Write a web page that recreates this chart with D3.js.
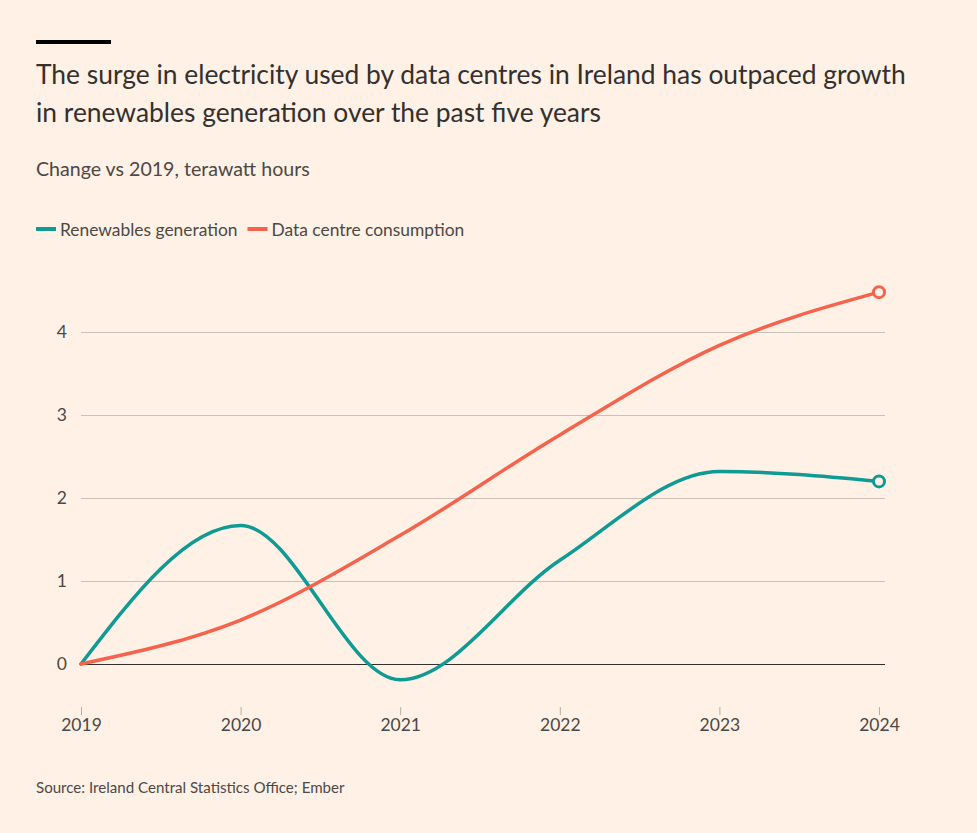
<!DOCTYPE html>
<html>
<head>
<meta charset="utf-8">
<script src="https://cdn.jsdelivr.net/npm/d3@7"></script>
<style>
  body { margin: 0; background: #fff1e5; }
  svg { display: block; font-family: "Lato", "Open Sans", sans-serif; }
</style>
</head>
<body>
<div id="chart"></div>
<script>
// values, change vs 2019 in TWh
var years = [2019, 2020, 2021, 2022, 2023, 2024];
var renewables = [0, 1.67, -0.19, 1.25, 2.32, 2.20];
var datacentres = [0, 0.53, 1.55, 2.76, 3.84, 4.48];
var yTicks = [0, 1, 2, 3, 4];

var seriesNames = ["Renewables generation", "Data centre consumption"];
var seriesColors = ["#0f9a94", "#f5634d"];

function main() {
    var W = 977, H = 833;
    var margin = {top: 250, right: 92, bottom: 169, left: 81},
        width = W - margin.left - margin.right,
        height = H - margin.top - margin.bottom;

    var root = d3.select("#chart").append("svg")
        .attr("width", W)
        .attr("height", H);

    root.append("rect").attr("width", W).attr("height", H).attr("fill", "#fff1e5");

    // header bar + titles
    root.append("rect")
        .attr("x", 36).attr("y", 40).attr("width", 75).attr("height", 4)
        .attr("fill", "#000");

    var title = root.append("text")
        .attr("fill", "#33302e")
        .style("font-size", "26.4px");
    title.append("tspan").attr("x", 36).attr("y", 84)
        .text("The surge in electricity used by data centres in Ireland has outpaced growth");
    title.append("tspan").attr("x", 36).attr("y", 122)
        .text("in renewables generation over the past five years");

    root.append("text")
        .attr("x", 36).attr("y", 176)
        .attr("fill", "#4d4845")
        .style("font-size", "19.6px")
        .text("Change vs 2019, terawatt hours");

    // legend
    var lx = 36;
    seriesNames.forEach(function(name, i) {
        root.append("rect")
            .attr("x", lx).attr("y", 227).attr("width", 20).attr("height", 4)
            .attr("fill", seriesColors[i]);
        var t = root.append("text")
            .attr("x", lx + 24).attr("y", 236)
            .attr("fill", "#4d4845")
            .style("font-size", "17.4px")
            .text(name);
        lx += 24 + t.node().getComputedTextLength() + 10;
    });

    root.append("text")
        .attr("x", 36).attr("y", 793)
        .attr("fill", "#4d4845")
        .style("font-size", "15.1px")
        .text("Source: Ireland Central Statistics Office; Ember");

    var svg = root.append("g")
        .attr("transform", `translate(${margin.left}, ${margin.top})`);

    var x = d3.scaleLinear()
        .domain([2019, 2024])
        .range([0, width - 6]);

    var y = d3.scaleLinear()
        .domain([0, 4])
        .range([664 - margin.top, 332 - margin.top]);

    // gridlines
    var yAxis_ = d3.axisLeft(y)
        .tickValues(yTicks)
        .tickSize(-width)
        .tickPadding(14)
        .tickFormat(d3.format("d"));

    var yAxis = svg.append("g")
        .attr("id", "axis--y")
        .call(yAxis_);
    yAxis.select(".domain").remove();
    yAxis.selectAll(".tick line")
        .attr("stroke", function(d) { return d === 0 ? "#33302e" : "#ccc1b7"; })
        .attr("stroke-width", 1);
    yAxis.selectAll(".tick text")
        .attr("fill", "#4d4845")
        .style("font-size", "17.5px")
        .style("font-family", "Lato, 'Open Sans', sans-serif");

    // x axis
    var xAxis_ = d3.axisBottom(x)
        .tickValues(years)
        .tickSize(8)
        .tickPadding(4)
        .tickFormat(d3.format("d"));

    var xAxis = svg.append("g")
        .attr("id", "axis--x")
        .attr("transform", `translate(0, ${707 - margin.top})`)
        .call(xAxis_);
    xAxis.select(".domain").remove();
    xAxis.selectAll(".tick line").attr("stroke", "#b7ada4");
    xAxis.selectAll(".tick text")
        .attr("fill", "#4d4845")
        .style("font-size", "17.5px")
        .style("font-family", "Lato, 'Open Sans', sans-serif");

    // lines
    var line = d3.line()
        .x(function(d, i) { return x(years[i]); })
        .y(function(d) { return y(d); })
        .curve(d3.curveMonotoneX);

    [renewables, datacentres].forEach(function(vals, i) {
        svg.append("path")
            .datum(vals)
            .attr("fill", "none")
            .attr("stroke", seriesColors[i])
            .attr("stroke-width", 3.5)
            .attr("stroke-linecap", "round")
            .attr("d", line);

        var last = vals.length - 1;
        svg.append("circle")
            .attr("cx", x(years[last]))
            .attr("cy", y(vals[last]))
            .attr("r", 5.5)
            .attr("fill", "#fff1e5")
            .attr("stroke", seriesColors[i])
            .attr("stroke-width", 3);
    });
}

main();
</script>
</body>
</html>
